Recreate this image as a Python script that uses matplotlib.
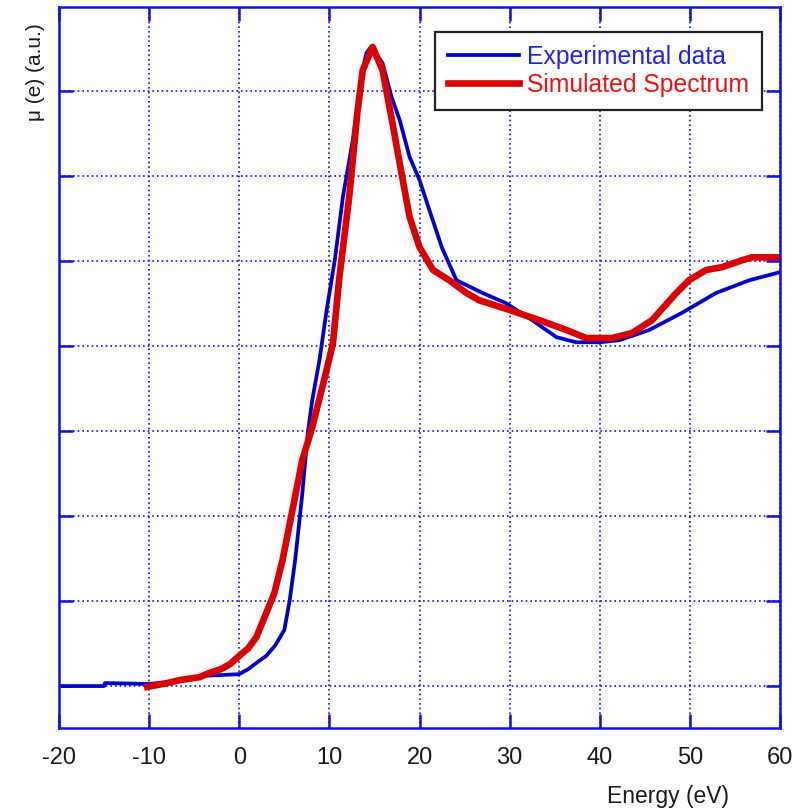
import matplotlib
matplotlib.use("Agg")
import matplotlib.pyplot as plt
import numpy as np

# Experimental data (blue)
exp_x = [-20, -15, -14.9, -10, -8, -6, -4, -2, 0, 1, 2, 3, 4, 5, 5.6, 6.2, 6.6, 7.0, 7.6,
         8.1, 8.9, 9.7, 10.6, 11.5, 12.6, 13.6, 14.1, 14.6, 15.9, 16.9, 17.8, 18.9, 20,
         21.1, 22.5, 24.1, 27, 29.6, 32.5, 35.2, 37.4, 40, 42.2, 45.5, 49.1, 52.9, 56.6, 60]
exp_y = [0, 0, 0.007, 0.005, 0.009, 0.016, 0.024, 0.026, 0.028, 0.040, 0.056, 0.071, 0.096,
         0.132, 0.202, 0.296, 0.374, 0.454, 0.595, 0.673, 0.767, 0.885, 1.002, 1.151, 1.285,
         1.442, 1.489, 1.504, 1.466, 1.386, 1.332, 1.245, 1.191, 1.120, 1.031, 0.955, 0.925,
         0.901, 0.861, 0.821, 0.809, 0.809, 0.814, 0.838, 0.878, 0.925, 0.955, 0.974]

# Simulated spectrum (red)
sim_x = [-10.2, -8, -6.6, -4.4, -3.3, -2, -1, 0, 1, 1.9, 3, 3.9, 4.8, 5.9, 7.0, 8.1, 9.5,
         10.4, 11.1, 12.2, 13.1, 13.7, 14.8, 15.9, 17, 18, 18.9, 20, 21.5, 23.3, 25.2, 26.6,
         30, 33.3, 36.3, 38.5, 41.4, 43.6, 45.8, 48.5, 49.9, 51.8, 53.6, 55.8, 56.9, 60]
sim_y = [-0.002, 0.007, 0.014, 0.021, 0.031, 0.040, 0.052, 0.071, 0.089, 0.115, 0.172, 0.219,
         0.296, 0.414, 0.532, 0.609, 0.727, 0.807, 0.960, 1.151, 1.348, 1.449, 1.504, 1.449,
         1.325, 1.207, 1.104, 1.033, 0.979, 0.955, 0.925, 0.908, 0.885, 0.861, 0.838, 0.819,
         0.819, 0.831, 0.861, 0.925, 0.955, 0.979, 0.986, 1.002, 1.009, 1.009]

x_ticks = [-20, -10, 0, 10, 20, 30, 40, 50, 60]
y_ticks = [0, 0.2, 0.4, 0.6, 0.8, 1.0, 1.2, 1.4]

plt.rcParams['font.family'] = ['Liberation Sans', 'DejaVu Sans']
plt.rcParams['axes.unicode_minus'] = False
axis_blue = '#1010e8'
text_col = '#1a1a1a'

fig = plt.figure(figsize=(8.04, 8.08), dpi=100)
ax = fig.add_axes([59/804, 1-727.7/808, 721/804, 720.7/808])

ax.plot(exp_x, exp_y, color='#0000d0', lw=2.7, label='Experimental data')
ax.plot(sim_x, sim_y, color='#dd0000', lw=4.8, label='Simulated Spectrum')

ax.set_xlim(-20, 60)
ax.set_ylim(-0.098, 1.598)
ax.set_xticks(x_ticks)
ax.set_yticks(y_ticks)
ax.set_yticklabels([])
ax.grid(True, color=axis_blue, linestyle=(0, (1, 1.8)), linewidth=1.2)
ax.set_axisbelow(True)

for s in ax.spines.values():
    s.set_color(axis_blue)
    s.set_linewidth(1.8)
ax.tick_params(axis='both', direction='in', length=10, width=1.8, color=axis_blue,
               top=True, right=True, labelsize=17, labelcolor=text_col, pad=14)

ax.set_xlabel('Energy (eV)', fontsize=16.5, color=text_col)
ax.xaxis.set_label_coords(0.845, -0.079)
ax.set_ylabel('μ (e) (a.u.)', fontsize=15, color=text_col)
ax.yaxis.set_label_coords(-0.019, 0.91)

leg = ax.legend(loc='upper right', bbox_to_anchor=(0.975, 0.966), fontsize=17.8,
                fancybox=False, framealpha=1, edgecolor='#222222', handlelength=2.85,
                handletextpad=0.33, labelspacing=0.18, borderpad=0.53, borderaxespad=0)
leg.get_frame().set_linewidth(1.6)
for txt, col in zip(leg.get_texts(), ['#2020ff', '#ee1111']):
    txt.set_color(col)

fig.savefig('out.png', dpi=100)
